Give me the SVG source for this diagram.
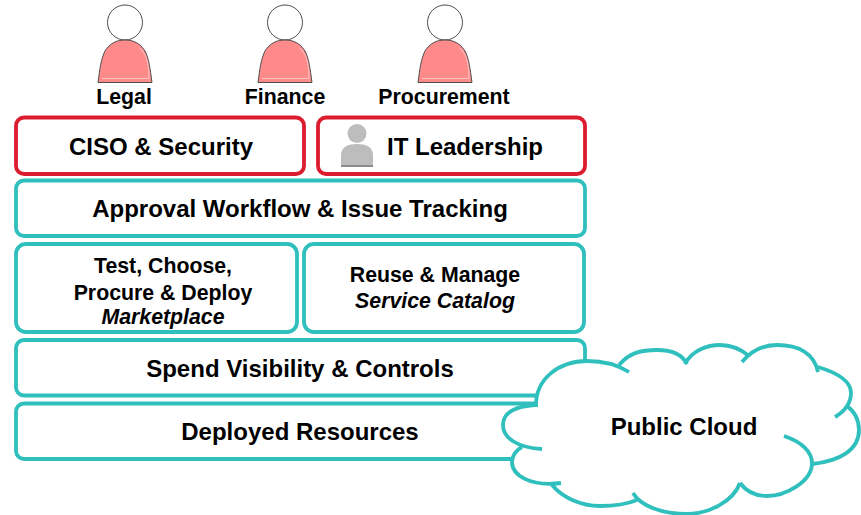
<svg xmlns="http://www.w3.org/2000/svg" width="861" height="515" viewBox="0 0 861 515">
<style>
text{font-family:"Liberation Sans",Arial,sans-serif;font-weight:bold;fill:#000;text-anchor:middle}
.t{font-size:24px}.s{font-size:21.300px}.i{font-style:italic}
.teal{fill:#fff;stroke:#2fbfbd;stroke-width:3.800}
.red{fill:#fff;stroke:#dc1c2e;stroke-width:3.800}
.body{fill:#ff8a8a;stroke:#4d4d4d;stroke-width:1}
.head{fill:#fff;stroke:#4d4d4d;stroke-width:1}
.shine{fill:none;stroke:#ffc4c4;stroke-width:1}
.c{fill:none;stroke:#2fbfbd;stroke-width:3.800}
</style>
<defs>
<g id="person">
<circle cx="0" cy="22.500" r="17.500" class="head"/>
<path d="M-27 82.500C-25 68-24 59-20 51C-15 43-8 40 0 40C8 40 15 43 20 51C24 59 25 68 27 82.500Z" class="body"/>
<path d="M-23 78.500H24C24 68 23 56 15 48" class="shine"/>
</g>
</defs>
<g id="legal"><use href="#person" x="125"/><text x="124" y="104" class="s">Legal</text></g>
<g id="finance"><use href="#person" x="285"/><text x="285" y="104" class="s">Finance</text></g>
<g id="procurement"><use href="#person" x="445"/><text x="444" y="104" class="s">Procurement</text></g>
<g id="ciso"><rect x="16" y="117.500" width="288" height="56.500" rx="8" class="red"/><text x="161" y="155" class="t">CISO &amp; Security</text></g>
<g id="it-leadership"><rect x="318" y="117.500" width="267" height="56.500" rx="8" class="red"/>
<circle cx="357" cy="133.500" r="9.500" fill="#bdbdbd"/>
<path d="M341 167V155C341 147 348 144 357 144C366 144 373 147 373 155V167Z" fill="#bdbdbd"/>
<rect x="341" y="165" width="32" height="2" fill="#8c8c8c"/>
<text x="465" y="155" class="t">IT Leadership</text></g>
<g id="approval"><rect x="16" y="180.500" width="569" height="55.500" rx="8" class="teal"/><text x="300" y="217" class="t">Approval Workflow &amp; Issue Tracking</text></g>
<g id="marketplace"><rect x="16" y="244" width="281" height="88" rx="10" class="teal"/><text x="163" y="273" class="s">Test, Choose,</text><text x="163" y="299.500" class="s">Procure &amp; Deploy</text><text x="163" y="324" class="s i">Marketplace</text></g>
<g id="catalog"><rect x="304" y="244" width="280" height="88" rx="10" class="teal"/><text x="435" y="282" class="s">Reuse &amp; Manage</text><text x="435" y="308" class="s i">Service Catalog</text></g>
<g id="spend"><rect x="16" y="340" width="569" height="55.500" rx="8" class="teal"/><text x="300" y="377" class="t">Spend Visibility &amp; Controls</text></g>
<g id="deployed"><rect x="16" y="403.500" width="569" height="55.500" rx="8" class="teal"/><text x="300" y="440" class="t">Deployed Resources</text></g>
<g id="cloud">
<path d="M536 406C535 378 560 361 587 361C604 361 612 362 620 365C630 352 642 350 657 350C670 350 680 354 686 362C694 350 708 345 720 345C732 345 742 350 749 356C758 348 768 345 777 345C798 345 813 353 818 368C838 373 851 382 851 393C851 397 850 402 847 406C855 412 859 420 859 430C859 450 840 461 812 464C808 482 785 496 767 496C755 496 746 490 740 484C732 502 708 514 687 514C665 514 645 507 636 500C625 505 612 506 600 506C580 506 562 497 552 485C530 485 512 475 512 462C512 455 516 451 522 447C510 443 503 434 503 425C503 415 515 407 536 406Z" fill="#fff"/>
<path class="c" d="M536 407C535 378 560 361 587 361C604 361 618 365 629 372"/>
<path class="c" d="M619 365C630 352 642 350 657 350C670 350 682 354 687 364"/>
<path class="c" d="M685 364C692 350 708 345 720 345C732 345 742 350 749 356"/>
<path class="c" d="M742 362C752 350 765 345 777 345C798 345 814 353 818 372"/>
<path class="c" d="M818 367C838 373 851 382 851 393C851 403 845 411 835 417"/>
<path class="c" d="M847 406C855 412 859 420 859 430C859 450 840 461 812 464"/>
<path class="c" d="M784 436C802 442 812 452 812 463C812 482 785 496 767 496C755 496 746 491 740 483"/>
<path class="c" d="M740 483C733 502 708 514 687 514C660 514 640 505 633 493"/>
<path class="c" d="M637 500C625 505 612 506 600 506C580 506 562 497 552 485"/>
<path class="c" d="M561 483C530 487 512 475 512 462C512 456 516 450 522 447"/>
<path class="c" d="M542 449C518 448 503 438 503 425C503 413 515 406 535 405"/>
<text x="684" y="435" class="t">Public Cloud</text>
</g>
</svg>
